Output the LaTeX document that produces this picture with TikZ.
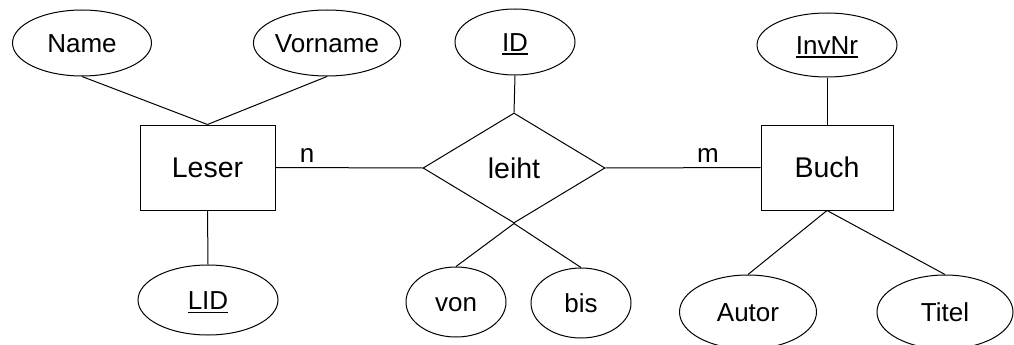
\documentclass[tikz,border=0pt]{standalone}
\usepackage{fontspec}
\setmainfont{Liberation Sans}
\usetikzlibrary{shapes.geometric}
\newcommand{\keyattr}[1]{\setbox0\hbox{#1}\rlap{\raisebox{-4pt}[0pt][0pt]{\rule{\wd0}{1.8pt}}}\box0}
\tikzset{
  attr/.style={draw, ellipse, line width=1pt, inner sep=0pt, text height=18.6pt, text depth=0pt, font=\fontsize{26}{30}\selectfont},
  entity/.style={draw, rectangle, line width=1pt, inner sep=0pt, minimum width=135pt, minimum height=85pt, text height=20.4pt, text depth=0pt, font=\fontsize{28.5}{32}\selectfont},
  relship/.style={draw, diamond, line width=1pt, inner sep=0pt, minimum width=182pt, minimum height=110pt, text height=20.4pt, text depth=0pt, font=\fontsize{28.5}{32}\selectfont},
  conn/.style={draw, line width=1pt},
  card/.style={font=\fontsize{26}{30}\selectfont, inner sep=0pt}
}
\begin{document}
\begin{tikzpicture}[x=1pt, y=-1pt]
\useasboundingbox (0,0) rectangle (1014,345);
% entities
\node[entity] (leser) at (207.5,167.5) {Leser};
\node[entity, minimum width=132pt] (buch) at (827,167.5) {Buch};
\node[relship] (leiht) at (514,168) {leiht};
% attributes
\node[attr, minimum width=139pt, minimum height=66pt] (name) at (82,43) {Name};
\node[attr, minimum width=140pt, minimum height=66pt] (vorname) at (327,43) {Vorname};
\node[attr, minimum width=120pt, minimum height=66pt] (id) at (515,42) {\keyattr{ID}};
\node[attr, minimum width=140pt, minimum height=64pt] (invnr) at (827,45) {\keyattr{InvNr}};
\node[attr, minimum width=140pt, minimum height=70pt] (lid) at (208,300) {\keyattr{LID}};
\node[attr, minimum width=100pt, minimum height=70pt] (von) at (456,302) {von};
\node[attr, minimum width=100pt, minimum height=70pt] (bis) at (581,303) {bis};
\node[attr, minimum width=137pt, minimum height=74pt] (autor) at (748,312) {Autor};
\node[attr, minimum width=136pt, minimum height=74pt] (titel) at (945,312) {Titel};
% connectors
\draw[conn] (name.south) -- (leser.north);
\draw[conn] (vorname.south) -- (leser.north);
\draw[conn] (id.south) -- (leiht.north);
\draw[conn] (invnr.south) -- (buch.north);
\draw[conn] (leser.south) -- (lid.north);
\draw[conn] (leser.east) -- (leiht.west);
\draw[conn] (leiht.east) -- (buch.west);
\draw[conn] (leiht.south) -- (von.north);
\draw[conn] (leiht.south) -- (bis.north);
\draw[conn] (buch.south) -- (autor.north);
\draw[conn] (buch.south) -- (titel.north);
% cardinalities
\node[card] (n) at (307,156) {n};
\node[card] (m) at (708,156) {m};
\end{tikzpicture}
\end{document}
